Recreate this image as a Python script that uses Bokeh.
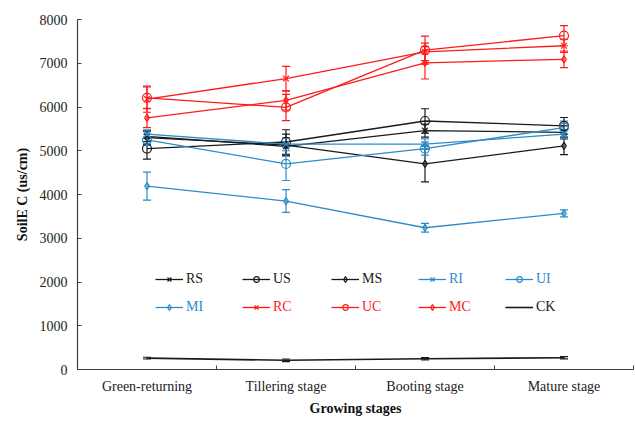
from bokeh.plotting import figure
from bokeh.models import (ColumnDataSource, Whisker, TeeHead, Legend, LegendItem,
                          FixedTicker, Range1d)
from bokeh.embed import file_html
from bokeh.resources import INLINE

# ---------------- data ----------------
categories = ["Green-returning", "Tillering stage", "Booting stage", "Mature stage"]
y_ticks = [0, 1000, 2000, 3000, 4000, 5000, 6000, 7000, 8000]

series_names = ["RS", "US", "MS", "RI", "UI", "MI", "RC", "UC", "MC", "CK"]

RS = [5330, 5100, 5460, 5420]
US = [5050, 5200, 5680, 5570]
MS = [5300, 5130, 4700, 5110]
RI = [5380, 5150, 5150, 5380]
UI = [5250, 4700, 5050, 5530]
MI = [4190, 3850, 3240, 3570]
RC = [6180, 6650, 7260, 7400]
UC = [6210, 5990, 7300, 7630]
MC = [5750, 6150, 7010, 7090]
CK = [260, 210, 245, 270]

RS_err = [120, 200, 150, 150]
US_err = [240, 280, 280, 190]
MS_err = [150, 250, 410, 200]
RI_err = [100, 150, 120, 100]
UI_err = [130, 380, 150, 150]
MI_err = [320, 260, 100, 80]
RC_err = [300, 280, 200, 150]
UC_err = [250, 300, 320, 230]
MC_err = [220, 220, 370, 190]
CK_err = [20, 30, 25, 25]

# ---------------- style ----------------
BLACK = "#1a1a1a"
BLUE = "#2E8BC8"
RED = "#FF1A1A"
FONT = "Liberation Serif"

styles = {
    "RS": (BLACK, "x"), "US": (BLACK, "circle"), "MS": (BLACK, "diamond"),
    "RI": (BLUE, "x"), "UI": (BLUE, "circle"), "MI": (BLUE, "diamond"),
    "RC": (RED, "x"), "UC": (RED, "circle"), "MC": (RED, "diamond"),
    "CK": (BLACK, None),
}
values = {"RS": RS, "US": US, "MS": MS, "RI": RI, "UI": UI, "MI": MI,
          "RC": RC, "UC": UC, "MC": MC, "CK": CK}
errors = {"RS": RS_err, "US": US_err, "MS": MS_err, "RI": RI_err, "UI": UI_err,
          "MI": MI_err, "RC": RC_err, "UC": UC_err, "MC": MC_err, "CK": CK_err}

xs = list(range(len(categories)))

p = figure(width=634, height=419, x_range=Range1d(-0.5, len(categories) - 0.5),
           y_range=Range1d(y_ticks[0], y_ticks[-1]),
           output_backend="svg", toolbar_location=None,
           min_border_left=77, min_border_right=1, min_border_top=19, min_border_bottom=50)
p.grid.visible = False
p.outline_line_color = None
p.background_fill_color = "white"
p.border_fill_color = "white"

# axes
p.xaxis.ticker = FixedTicker(ticks=xs, minor_ticks=[i - 0.5 for i in range(len(categories) + 1)])
p.xaxis.major_label_overrides = {i: c for i, c in enumerate(categories)}
p.xaxis.major_tick_in = 0
p.xaxis.major_tick_out = 0
p.xaxis.minor_tick_in = 4
p.xaxis.minor_tick_out = 0
p.xaxis.minor_tick_line_color = "#404040"
p.xaxis.major_label_standoff = 9
p.xaxis.axis_label = "Growing stages"
p.xaxis.axis_label_standoff = 4

p.yaxis.ticker = FixedTicker(ticks=y_ticks, minor_ticks=[])
p.yaxis.major_tick_in = 4
p.yaxis.major_tick_out = 0
p.yaxis.minor_tick_in = 0
p.yaxis.minor_tick_out = 0
p.yaxis.major_label_standoff = 10
p.yaxis.axis_label = "SoilE C (us/cm)"
p.yaxis.axis_label_standoff = 7

for ax in (p.xaxis[0], p.yaxis[0]):
    ax.axis_line_color = "#404040"
    ax.axis_line_width = 1.2
    ax.major_tick_line_color = "#404040"
    ax.major_label_text_font = FONT
    ax.major_label_text_font_size = "14px"
    ax.major_label_text_color = "#222222"
    ax.axis_label_text_font = FONT
    ax.axis_label_text_font_size = "14px"
    ax.axis_label_text_font_style = "bold"
    ax.axis_label_text_color = "#111111"

# legend layout (screen offsets from frame bottom-left)
legend_cols = [78, 165, 254, 341, 428]
legend_rows = [82, 54]

for idx, name in enumerate(series_names):
    color, marker = styles[name]
    y = values[name]
    e = errors[name]
    src = ColumnDataSource(dict(x=xs, y=y,
                                upper=[a + b for a, b in zip(y, e)],
                                lower=[a - b for a, b in zip(y, e)]))
    w = Whisker(source=src, base="x", upper="upper", lower="lower", dimension="height",
                line_color=color, line_width=1.2,
                upper_head=TeeHead(size=8, line_color=color, line_width=1.2),
                lower_head=TeeHead(size=8, line_color=color, line_width=1.2))
    p.add_layout(w)
    rl = p.line("x", "y", source=src, line_color=color,
                line_width=1.6 if name == "CK" else 1.3)
    renderers = [rl]
    if marker is not None:
        size = 9 if marker == "circle" else (8 if marker == "x" else 7)
        rs = p.scatter("x", "y", source=src, marker=marker, size=size,
                       line_color=color, fill_color=None, line_width=1.2)
        renderers.append(rs)
    item = LegendItem(label=name, renderers=renderers)
    col = legend_cols[idx % 5]
    row = legend_rows[idx // 5]
    leg = Legend(items=[item], location=(col, row), orientation="horizontal",
                 label_text_color=color, label_text_font=FONT,
                 label_text_font_size="14px", glyph_width=28, glyph_height=14,
                 label_height=14, label_standoff=3, padding=0, margin=0, spacing=0,
                 border_line_alpha=0, background_fill_alpha=0)
    p.add_layout(leg)

open("out.html", "w").write(file_html(p, INLINE))
